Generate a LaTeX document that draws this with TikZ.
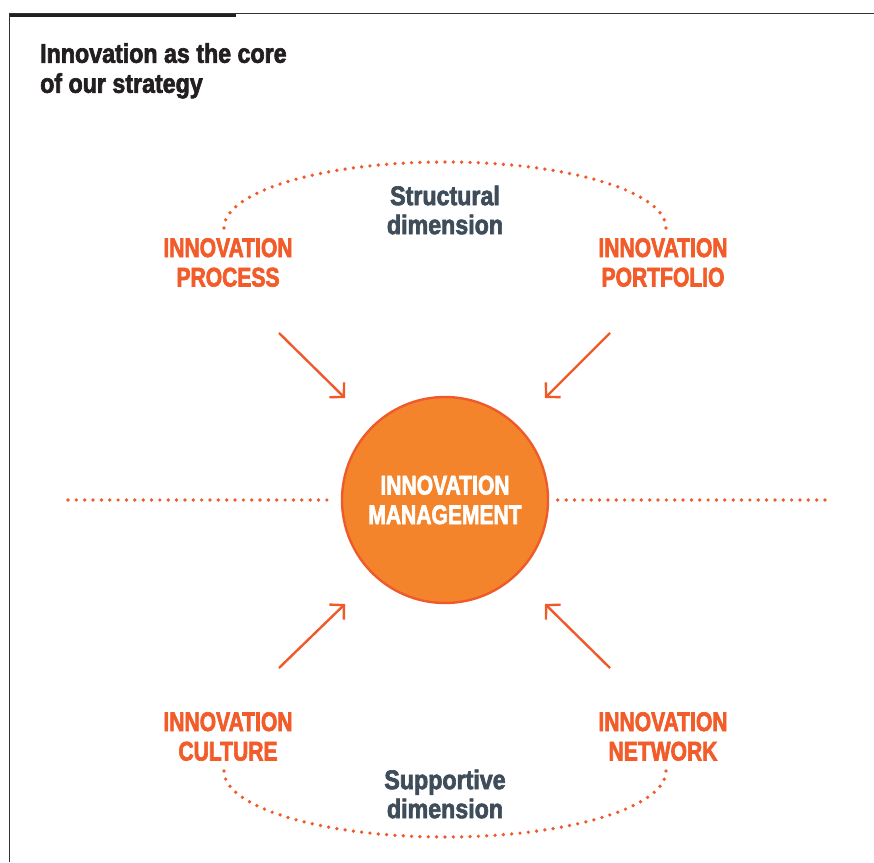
\documentclass[tikz,border=0pt]{standalone}
\usepackage{fontspec}
\usepackage{tikz}
\usetikzlibrary{arrows.meta}
\setmainfont{Liberation Sans}
\newfontfamily\capsfont{Liberation Sans}[UprightFont=* Bold,FakeStretch=0.78,FakeBold=2.4]
\newfontfamily\lowfont{Liberation Sans}[UprightFont=* Bold,FakeStretch=0.86,FakeBold=2.4]
\definecolor{orangetext}{RGB}{241,92,42}
\definecolor{orangefill}{RGB}{244,132,44}
\definecolor{orangeline}{RGB}{239,90,42}
\definecolor{slate}{RGB}{62,77,89}
\definecolor{titleblack}{RGB}{35,31,32}

\begin{document}
\begin{tikzpicture}[x=1pt,y=1pt,node distance=435pt,
  main node/.style={circle,fill=orangefill,draw=orangeline,line width=2.4pt,
    minimum size=206pt,inner sep=0pt,align=center,text=white,
    font=\capsfont\fontsize{27}{29.5}\selectfont},
  field node/.style={inner sep=0pt,align=center,text=orangetext,
    font=\capsfont\fontsize{27}{29.5}\selectfont},
  dim node/.style={inner sep=0pt,align=center,text=slate,
    font=\lowfont\fontsize{27}{29}\selectfont},
  push/.style={draw=orangeline,line width=2.4pt,
    -{Straight Barb[length=10pt,width=21pt]}},
  dots/.style={draw=orangeline,line width=3.7pt,line cap=round,
    dash pattern=on 0pt off 8.35pt}]
  \useasboundingbox (0,0) rectangle (874,862);

  % frame
  \fill[titleblack] (9,844.5) rectangle (236,849.3);
  \draw[line width=1pt,black!80] (9,848.8) -- (874,848.8);
  \draw[line width=1.3pt,black!80] (9.6,849.3) -- (9.6,0);
  \node[anchor=north west,inner sep=0pt,align=left,text=titleblack,
    font=\lowfont\fontsize{27}{30}\selectfont] (title) at (40,819)
    {Innovation as the core\\of our strategy};

  % nodes
  \node[main node] (mgmt) at (445,362) {INNOVATION\\MANAGEMENT};
  \node[field node] (process) at (228,599.5) {INNOVATION\\PROCESS};
  \node[field node] (portfolio) [right of=process] {INNOVATION\\PORTFOLIO};
  \node[field node] (culture) at (228,125.5) {INNOVATION\\CULTURE};
  \node[field node] (network) [right of=culture] {INNOVATION\\NETWORK};
  \node[dim node] (struct) at (445,652) {Structural\\dimension};
  \node[dim node] (support) at (445,68) {Supportive\\dimension};

  % arrow ends
  \coordinate (p1) at (279,529);
  \coordinate (p2) at (610,529);
  \coordinate (c1) at (279,194);
  \coordinate (n1) at (610,194);
  \coordinate (lft) at (68,362);
  \coordinate (rgt) at (825,362);
  \coordinate (top) at ([xshift=-4pt,yshift=10pt]process.north);
  \coordinate (bot) at ([xshift=-4pt,yshift=-10pt]culture.south);

  \draw[push] (p1) -- ([shift={(-100pt,102pt)}]mgmt.center);
  \draw[push] (p2) -- ([shift={(100pt,102pt)}]mgmt.center);
  \draw[push] (c1) -- ([shift={(-100pt,-104pt)}]mgmt.center);
  \draw[push] (n1) -- ([shift={(100pt,-104pt)}]mgmt.center);

  \path[dots] (lft) -- ([xshift=-6pt]mgmt.west);
  \path[dots] (rgt) -- ([xshift=6pt]mgmt.east);
  \path[dots] (top) arc[start angle=180,end angle=0,x radius=221,y radius=66];
  \path[dots] (bot) arc[start angle=180,end angle=360,x radius=221,y radius=66];
\end{tikzpicture}
\end{document}
